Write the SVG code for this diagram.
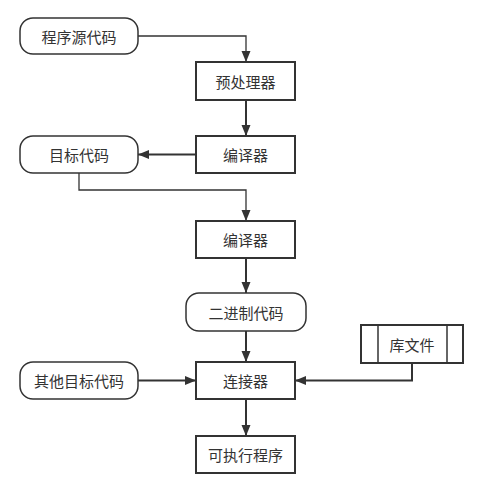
<svg xmlns="http://www.w3.org/2000/svg" width="486" height="489" viewBox="0 0 486 489">
<defs>
<marker id="ah" markerWidth="12" markerHeight="10" refX="11" refY="5" orient="auto" markerUnits="userSpaceOnUse">
<path d="M0,0.5 L11,5 L0,9.5 Z" fill="#333"/>
</marker>
<style>
.box{fill:#fff;stroke:#333;stroke-width:2}
.term{fill:#fff;stroke:#333;stroke-width:1.5}
.t{font-family:"Noto Sans CJK SC","Liberation Sans",sans-serif;font-size:15px;fill:#333;text-anchor:middle;dominant-baseline:central}
.c{fill:none;stroke:#333;stroke-width:2;marker-end:url(#ah)}
.c1{fill:none;stroke:#333;stroke-width:1.3;marker-end:url(#ah)}
</style>
</defs>
<rect width="486" height="489" fill="#fff"/>
<g id="connectors">
<path class="c1" d="M138,36 H246 V62"/>
<path class="c" d="M246,100 V136"/>
<path class="c" d="M196,154.5 H138"/>
<path class="c1" d="M79,173 V190 H246 V221"/>
<path class="c" d="M246,258 V293"/>
<path class="c" d="M246,331 V362"/>
<path class="c" d="M138,380.5 H196"/>
<path class="c" d="M412,363 V380.5 H295"/>
<path class="c" d="M246,399 V436"/>
</g>
<g id="n1"><rect class="term" x="20" y="18" width="118" height="36" rx="13"/><text class="t" x="79" y="36">程序源代码</text></g>
<g id="n2"><rect class="box" x="196" y="62" width="99" height="38"/><text class="t" x="245.5" y="81">预处理器</text></g>
<g id="n3"><rect class="box" x="196" y="136" width="99" height="37"/><text class="t" x="245.5" y="154.5">编译器</text></g>
<g id="n4"><rect class="term" x="20" y="136" width="118" height="37" rx="13"/><text class="t" x="79" y="154.5">目标代码</text></g>
<g id="n5"><rect class="box" x="196" y="221" width="99" height="37"/><text class="t" x="245.5" y="239.5">编译器</text></g>
<g id="n6"><rect class="term" x="186" y="293" width="120" height="38" rx="13"/><text class="t" x="246" y="312">二进制代码</text></g>
<g id="n7"><rect class="box" x="361" y="325" width="102" height="38"/><line x1="378" y1="325" x2="378" y2="363" stroke="#333" stroke-width="1.5"/><line x1="447" y1="325" x2="447" y2="363" stroke="#333" stroke-width="1.5"/><text class="t" x="412" y="344">库文件</text></g>
<g id="n8"><rect class="term" x="20" y="362" width="118" height="37" rx="13"/><text class="t" x="79" y="380.5">其他目标代码</text></g>
<g id="n9"><rect class="box" x="196" y="362" width="99" height="37"/><text class="t" x="245.5" y="380.5">连接器</text></g>
<g id="n10"><rect class="box" x="196" y="436" width="99" height="37"/><text class="t" x="245.5" y="454.5">可执行程序</text></g>
</svg>
